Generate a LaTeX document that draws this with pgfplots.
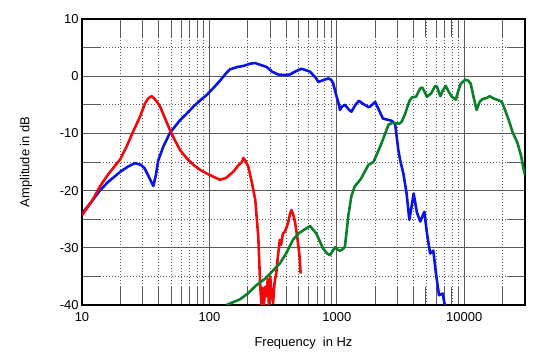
\documentclass[border=0pt]{standalone}
\usepackage{fontspec}
\setmainfont{Liberation Sans}
\usepackage{pgfplots}
\pgfplotsset{compat=1.18}
\definecolor{cblue}{RGB}{10,20,230}
\definecolor{cred}{RGB}{240,10,10}
\definecolor{cgreen}{RGB}{10,128,40}
\definecolor{gridc}{RGB}{90,90,90}
\begin{document}
\begin{tikzpicture}
\useasboundingbox (-82bp,-56bp) rectangle (455bp,305bp);
\begin{axis}[
  at={(0,0)}, anchor=south west,
  scale only axis, width=443bp, height=286bp,
  xmode=log, xmin=10, xmax=30000, ymin=-40, ymax=10,
  xtick={10,100,1000,10000}, xticklabels={10,100,1000,10000},
  minor xtick={20,30,40,50,60,70,80,90,200,300,400,500,600,700,800,900,2000,3000,4000,5000,6000,7000,8000,9000,20000},
  ytick={-40,-30,-20,-10,0,10},
  minor ytick={-35,-25,-15,-5,5},
  grid=both,
  major grid style={solid, gridc, line width=0.7bp},
  minor grid style={gridc, line width=0.7bp, dash pattern=on 1bp off 2bp},
  tick align=inside,
  major tick length=18bp, minor tick length=18bp,
  every tick/.style={gridc, line width=0.8bp},
  axis line style={black, line width=2bp},
  /pgf/number format/assume math mode=true,
  tick label style={font=\fontsize{13}{15}\selectfont, black},
  xticklabel style={yshift=-4bp},
  label style={font=\fontsize{13}{15}\selectfont},
  xlabel={Frequency\ \ in Hz}, ylabel={Amplitude in dB},
  xlabel style={at={(axis description cs:0.5,0)}, anchor=center, yshift=-38bp},
  ylabel style={at={(axis description cs:0,0.5)}, anchor=center, xshift=0bp, yshift=56bp},
  clip=true,
  every axis plot/.style={line width=2.6bp, line join=round},
]
\addplot[cblue] coordinates {
(10,-24) (12,-21.8) (13.8,-20) (16,-18.5) (20,-16.7) (23,-15.8) (26,-15.2) (29,-15.5) (31,-16.1) (34,-17.9) (36.3,-19.2) (38,-17.3) (39.7,-14.7) (43.5,-12.3) (49,-9.9) (58.8,-7.7) (66,-6.6) (75,-5.3) (85,-4.2) (95,-3.3) (108,-2.0) (121,-0.8) (135,0.5) (145,1.2) (165,1.6) (185,1.8) (210,2.2) (228,2.3) (250,2.0) (282,1.6) (310,0.8) (346,0.3) (390,0.2) (428,0.3) (480,0.9) (529,1.3) (616,0.8) (690,-0.4) (716,-1.0) (800,-0.6) (859,-0.4) (900,-0.6) (936,-1.2) (980,-3.0) (1040,-5.0) (1058,-5.9) (1100,-5.3) (1158,-5.0) (1250,-5.9) (1304,-6.2) (1400,-5.0) (1490,-4.3) (1600,-4.8) (1770,-5.4) (1830,-5.3) (2000,-4.5) (2150,-6.0) (2300,-7.4) (2500,-7.6) (2700,-7.8) (2870,-8.4) (3040,-12.9) (3150,-14.8) (3330,-17) (3530,-20.5) (3710,-25.1) (3850,-23) (4010,-20.5) (4250,-23.8) (4520,-25.4) (4700,-24.5) (4870,-23.7) (5100,-27.5) (5400,-31.0) (5720,-30.5) (6000,-34.5) (6340,-38.3) (6780,-38) (7100,-40.5)
};
\addplot[cred] coordinates {
(10,-24.3) (12,-21.8) (13.8,-19.3) (16,-17.2) (20,-14.5) (22.4,-12.3) (25.3,-9.6) (28.5,-7.1) (31.2,-4.8) (33,-3.9) (35.2,-3.5) (37,-3.9) (39.7,-4.8) (41,-5.3) (44.9,-7.4) (49,-9.4) (53,-11) (58.8,-12.9) (66,-14.3) (75,-15.5) (85,-16.4) (95,-17) (108,-17.6) (121,-18.1) (135,-17.8) (154,-16.7) (170,-15.5) (180,-15) (185,-14.3) (192,-14.8) (202,-15.8) (215,-18.5) (229,-21.6) (242,-28.1) (250,-36.2) (256,-40) (262,-37) (268,-40) (274,-36.8) (280,-38.5) (287,-35.5) (293,-40) (300,-35.0) (308,-38) (316,-39.7) (325,-36) (335,-34.4) (345,-31.5) (357,-28.6) (365,-29.5) (378,-27.5) (391,-27.2) (405,-26.3) (417,-25.4) (430,-24) (441,-23.4) (455,-24.2) (469,-25.4) (485,-27.5) (500,-29.8) (510,-31.5) (520,-34.5)
};
\addplot[cgreen] coordinates {
(136,-40) (174,-39) (200,-38) (235,-36.5) (270,-35.5) (300,-34.5) (358,-32.7) (400,-31) (453,-28.6) (500,-27.5) (549,-26.9) (617,-26.2) (690,-27.5) (779,-30.1) (840,-31) (884,-31.3) (930,-30.5) (971,-29.9) (1010,-30.3) (1058,-30.5) (1120,-30.2) (1158,-29.8) (1233,-24.3) (1300,-21) (1380,-19.3) (1550,-17.9) (1770,-15.5) (1940,-15) (2190,-12.3) (2400,-10) (2540,-8.5) (2700,-8.2) (2870,-8.2) (3100,-8.3) (3240,-7.9) (3450,-6.5) (3560,-5.5) (3740,-4.2) (3900,-3.7) (4180,-3.6) (4520,-2.1) (4700,-2.0) (5100,-3.6) (5500,-3.0) (5920,-1.7) (6100,-1.8) (6500,-3.5) (6800,-2.5) (7150,-1.7) (7600,-2.8) (8000,-3.6) (8600,-4.1) (9000,-2.5) (9400,-1.3) (10200,-0.6) (10800,-0.8) (11240,-1.3) (11800,-3.5) (12500,-5.9) (13200,-4.5) (13900,-4.0) (15000,-3.8) (15860,-3.5) (17000,-3.9) (18560,-4.2) (19740,-4.5) (21000,-6) (22380,-7.7) (24000,-9.8) (26230,-11.7) (28000,-14) (29400,-16.5) (30000,-17.3)
};
\end{axis}
\end{tikzpicture}
\end{document}
